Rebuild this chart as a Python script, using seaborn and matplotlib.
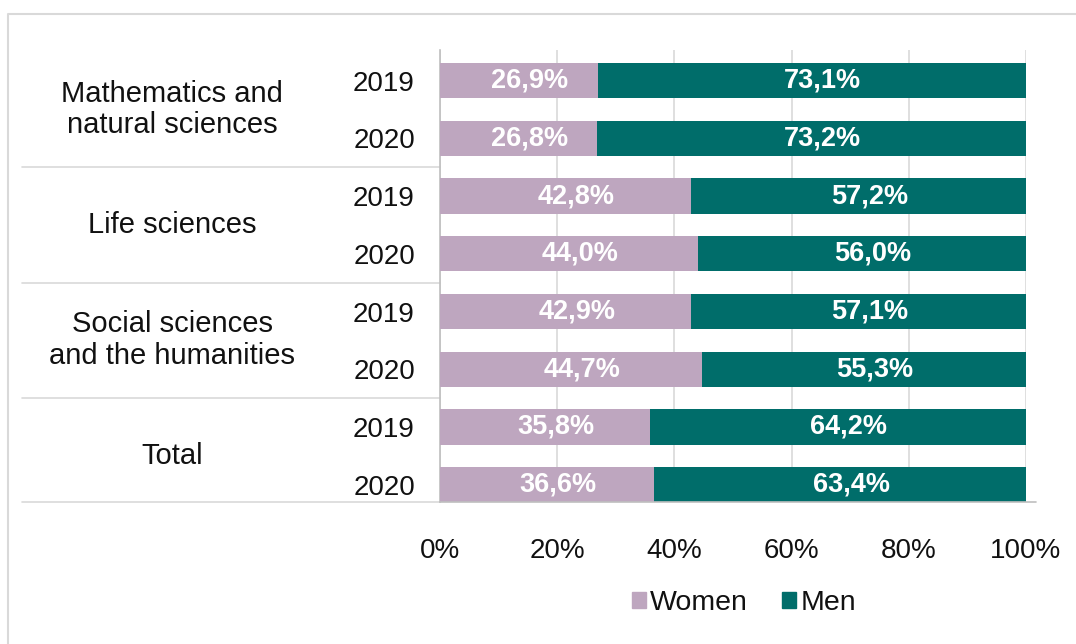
import matplotlib
matplotlib.use("Agg")
import matplotlib.pyplot as plt
import matplotlib.transforms as mtransforms
from matplotlib.lines import Line2D
from matplotlib.patches import Patch
import pandas as pd
import seaborn as sns

# Share of women and men by field of science, 2019 and 2020
fields = ["Mathematics and\nnatural sciences", "Life sciences",
          "Social sciences\nand the humanities", "Total"]
years = ["2019", "2020"]
women = [26.9, 26.8, 42.8, 44.0, 42.9, 44.7, 35.8, 36.6]
men = [73.1, 73.2, 57.2, 56.0, 57.1, 55.3, 64.2, 63.4]

WOMEN_COLOR = "#BEA6BF"
MEN_COLOR = "#006D6A"
GRID_COLOR = "#D9D9D9"
AXIS_COLOR = "#BFBFBF"
TEXT_COLOR = "#111111"

rows = [f"{f} {y}" for f in fields for y in years]
df = pd.DataFrame({
    "row": rows,
    "year": years * len(fields),
    "Women": women,
    "Men": men,
})
df["total"] = df["Women"] + df["Men"]

sns.set_theme(style="white")
plt.rcParams["font.family"] = ["Liberation Sans", "DejaVu Sans"]

W, H = 1076, 644
fig = plt.figure(figsize=(W / 100, H / 100), dpi=100)
fig.patch.set_facecolor("white")
ax = fig.add_axes([440 / W, (H - 502) / H, 586 / W, 452 / H])

# stacked bars: full (women + men) bar in teal, women segment drawn over it
sns.barplot(data=df, y="row", x="total", color=MEN_COLOR, saturation=1,
            width=0.61, orient="h", ax=ax, zorder=2, linewidth=0)
sns.barplot(data=df, y="row", x="Women", color=WOMEN_COLOR, saturation=1,
            width=0.61, orient="h", ax=ax, zorder=3, linewidth=0)

ax.set_xlim(0, 100)
ax.set_ylim(7.30, -0.53)
ax.set_xlabel("")
ax.set_ylabel("")

# value labels in the middle of each segment
lbl_tr = mtransforms.offset_copy(ax.transData, fig=fig, x=11, y=0, units="dots")
fmt = lambda v: f"{v:.1f}%".replace(".", ",")
for i, (w, m) in enumerate(zip(df["Women"], df["Men"])):
    ax.text(w / 2, i, fmt(w), transform=lbl_tr, ha="center", va="center",
            color="white", fontsize=19.5, fontweight="bold", zorder=5)
    ax.text(w + m / 2, i, fmt(m), transform=lbl_tr, ha="center", va="center",
            color="white", fontsize=19.5, fontweight="bold", zorder=5)

# axes styling
ax.set_xticks(range(0, 101, 20))
ax.set_xticklabels([f"{v}%" for v in range(0, 101, 20)])
ax.set_yticks(range(len(rows)))
ax.set_yticklabels(df["year"])
ax.tick_params(axis="x", length=0, pad=26, labelsize=20, labelcolor=TEXT_COLOR)
ax.tick_params(axis="y", length=0, pad=18, labelsize=20, labelcolor=TEXT_COLOR)
ax.grid(axis="x", color=GRID_COLOR, linewidth=1.2, zorder=0)
ax.grid(axis="y", visible=False)
ax.set_axisbelow(True)
for side in ("top", "right", "bottom"):
    ax.spines[side].set_visible(False)
ax.spines["left"].set_color(AXIS_COLOR)
ax.spines["left"].set_linewidth(1.2)

# bottom axis line, running slightly past 100%
ax.add_line(Line2D([0, 1.017], [0, 0], transform=ax.transAxes, color=AXIS_COLOR,
                   linewidth=1.2, clip_on=False, zorder=4))

# group separators in the label area
sep_tr = mtransforms.blended_transform_factory(ax.transAxes, ax.transData)
for y in (1.5, 3.5, 5.5):
    ax.add_line(Line2D([-0.713, 0], [y, y], transform=sep_tr, color=GRID_COLOR,
                       linewidth=1.2, clip_on=False))
ax.add_line(Line2D([-0.713, 0], [0, 0], transform=ax.transAxes, color=GRID_COLOR,
                   linewidth=1.2, clip_on=False))

# field names centred on their pair of bars
grp_tr = mtransforms.blended_transform_factory(fig.transFigure, ax.transData)
for k, name in enumerate(fields):
    fig.text(172 / W, 2 * k + 0.5, name, transform=grp_tr, ha="center",
             va="center", fontsize=21, color=TEXT_COLOR, linespacing=1.17)

# legend
handles = [Patch(color=WOMEN_COLOR), Patch(color=MEN_COLOR)]
fig.legend(handles, ["Women", "Men"], loc="center",
           bbox_to_anchor=(744 / W, 1 - 603 / H), ncol=2, frameon=False,
           fontsize=20.5, handlelength=0.5, handleheight=0.5,
           handletextpad=0.15, columnspacing=1.2, labelcolor=TEXT_COLOR)

# chart frame
fig.add_artist(Line2D([8 / W, 8 / W, 1.0], [0, 1 - 14 / H, 1 - 14 / H],
                      transform=fig.transFigure, color=GRID_COLOR, linewidth=1.5))

fig.savefig("out.png", dpi=100)
